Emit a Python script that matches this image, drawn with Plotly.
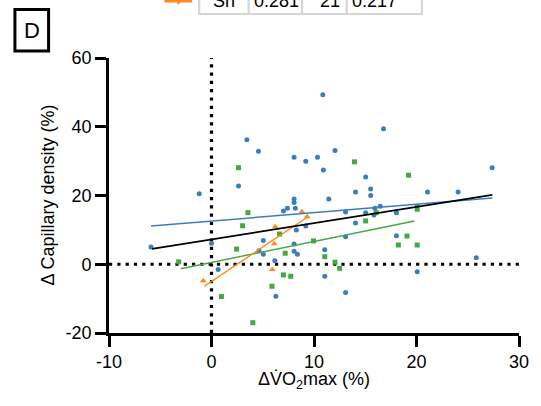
import plotly.graph_objects as go

# ---- data ----
blue_x = [-5.9, -1.2, 0.0, 0.65, 2.64, 3.45, 4.58, 4.64, 5.06, 5.06, 6.18, 6.28, 7.02, 7.41,
          8.06, 8.06, 8.18, 8.06, 8.06, 8.06, 8.38, 8.28, 9.2, 9.2, 10.34, 10.86, 10.92, 11.44,
          11.05, 11.05, 12.05, 13.08, 13.08, 13.08, 14.05, 14.05, 15.04, 15.04, 15.53, 15.53,
          15.85, 15.94, 16.46, 16.78, 18.04, 18.04, 20.07, 20.07, 21.07, 24.06, 25.83, 27.38]
blue_y = [5.0, 20.5, 6.1, -1.5, 22.8, 36.2, 32.9, 3.9, 6.9, 2.9, 1.0, -9.3, 15.5, 16.3,
          19.0, 18.0, 16.3, 31.1, 5.9, 3.8, 2.9, 10.0, 30.0, 11.1, 31.1, 49.3, 27.4, 19.0,
          4.2, -3.5, 33.1, 15.2, 8.0, -8.2, 21.0, 12.0, 25.4, 15.0, 21.9, 20.0,
          14.3, 16.3, 16.9, 39.4, 15.0, 8.3, 16.9, -2.2, 21.0, 21.0, 1.9, 28.1]

green_x = [-3.2, 0.97, 2.45, 2.64, 3.03, 3.55, 4.03, 5.9, 6.64, 7.02, 7.19, 7.73, 9.95, 11.05,
           12.05, 12.5, 13.95, 15.04, 16.07, 18.23, 19.07, 19.23, 20.07, 20.07]
green_y = [0.7, -9.4, 4.4, 28.1, 11.2, 15.0, -17.0, -6.4, 8.8, -3.1, 3.2, -3.5, 6.8, 2.2,
           0.6, -1.2, 29.8, 12.6, 15.0, 5.6, 8.2, 25.9, 16.0, 5.6]

orange_x = [-0.8, 5.92, 6.12, 6.22, 8.83, 9.34]
orange_y = [-4.8, -1.5, 6.0, 10.9, 15.3, 13.8]

# regression lines (end points)
blue_fit_x = [-5.9, 27.4]
blue_fit_y = [11.1, 19.3]
black_fit_x = [-5.8, 27.4]
black_fit_y = [4.5, 20.2]
green_fit_x = [-3.0, 19.8]
green_fit_y = [-1.3, 12.6]
orange_fit_x = [-0.7, 9.3]
orange_fit_y = [-6.4, 13.6]

x_ticks = [-10, 0, 10, 20, 30]
x_ticktext = ["-10", "0", "10", "20", "30"]
y_ticks = [-20, 0, 20, 40, 60]
y_ticktext = ["-20", "0", "20", "40", "60"]

table_row = ["Sn", "0.281", "21", "0.217"]

BLUE = "#3a7ebf"
GREEN = "#45a845"
ORANGE = "#ff8a1c"
FONT = "Liberation Sans, Arial, sans-serif"

W, H = 541, 406
L, R, T, B = 109, 18, 58, 73
PW, PH = W - L - R, H - T - B


def px(x):
    return (x - L) / PW


def py(y):
    return (H - B - y) / PH


fig = go.Figure()

fig.add_trace(go.Scatter(x=blue_x, y=blue_y, mode="markers",
                         marker=dict(symbol="circle", size=5, color=BLUE), showlegend=False))
fig.add_trace(go.Scatter(x=green_x, y=green_y, mode="markers",
                         marker=dict(symbol="square", size=5, color=GREEN), showlegend=False))
fig.add_trace(go.Scatter(x=orange_x, y=orange_y, mode="markers",
                         marker=dict(symbol="triangle-up", size=6, color=ORANGE), showlegend=False))

fig.add_trace(go.Scatter(x=blue_fit_x, y=blue_fit_y, mode="lines",
                         line=dict(color=BLUE, width=1.5), showlegend=False))
fig.add_trace(go.Scatter(x=green_fit_x, y=green_fit_y, mode="lines",
                         line=dict(color=GREEN, width=1.5), showlegend=False))
fig.add_trace(go.Scatter(x=orange_fit_x, y=orange_fit_y, mode="lines",
                         line=dict(color=ORANGE, width=1.5), showlegend=False))
fig.add_trace(go.Scatter(x=black_fit_x, y=black_fit_y, mode="lines",
                         line=dict(color="black", width=1.8), showlegend=False))

shapes = [
    dict(type="line", xref="x", yref="y", x0=x_ticks[0], x1=x_ticks[-1], y0=0, y1=0,
         line=dict(color="black", width=3.2, dash="3.2px,5.1px"), layer="below"),
    dict(type="line", xref="x", yref="y", x0=0, x1=0, y0=y_ticks[0], y1=y_ticks[-1],
         line=dict(color="black", width=3.2, dash="3.2px,5.1px"), layer="below"),
    # panel letter box
    dict(type="rect", xref="paper", yref="paper", x0=px(14), x1=px(48), y0=py(51), y1=py(9.5),
         line=dict(color="black", width=3)),
    # partial table at the top
    dict(type="line", xref="paper", yref="paper", x0=px(199), x1=px(426), y0=py(14), y1=py(14),
         line=dict(color="#d6d6d6", width=2.2)),
    # orange legend sample
    dict(type="line", xref="paper", yref="paper", x0=px(165), x1=px(193), y0=py(1), y1=py(1),
         line=dict(color=ORANGE, width=3)),
    dict(type="path", xref="paper", yref="paper",
         path=f"M {px(176)},{py(0)} L {px(182)},{py(0)} L {px(179)},{py(5)} Z",
         fillcolor=ORANGE, line=dict(color=ORANGE, width=0)),
]
for xv in [200, 250, 304, 349, 425]:
    shapes.append(dict(type="line", xref="paper", yref="paper", x0=px(xv), x1=px(xv),
                       y0=py(-5), y1=py(15), line=dict(color="#d6d6d6", width=2.2)))

annotations = [
    dict(text="D", xref="paper", yref="paper", x=px(31), y=py(30.5), showarrow=False,
         xanchor="center", yanchor="middle", font=dict(family=FONT, size=22, color="black")),
    dict(text="Δ Capillary density (%)", xref="paper", yref="paper", x=px(47), y=py(195),
         showarrow=False, textangle=-90, xanchor="center", yanchor="middle",
         font=dict(family=FONT, size=18, color="black")),
    dict(text="ΔV̇O<sub>2</sub>max (%)", xref="paper", yref="paper", x=px(316), y=py(380),
         showarrow=False, xanchor="center", yanchor="middle",
         font=dict(family=FONT, size=18, color="black")),
]
cell_pos = [(212, "left"), (253, "left"), (344, "right"), (352, "left")]
for (xv, anc), txt in zip(cell_pos, table_row):
    annotations.append(dict(text=txt, xref="paper", yref="paper", x=px(xv), y=py(1),
                            showarrow=False, xanchor=anc, yanchor="middle",
                            font=dict(family=FONT, size=18, color="black")))

axis_common = dict(showline=True, linecolor="black", linewidth=2.6, ticks="outside",
                   ticklen=11, tickwidth=2.6, tickcolor="black", showgrid=False,
                   zeroline=False, tickfont=dict(family=FONT, size=18, color="black"))

fig.update_layout(
    width=W, height=H,
    margin=dict(l=L, r=R, t=T, b=B, pad=0),
    paper_bgcolor="white", plot_bgcolor="white",
    xaxis=dict(range=[x_ticks[0], x_ticks[-1]], tickvals=x_ticks, ticktext=x_ticktext, **axis_common),
    yaxis=dict(range=[y_ticks[0], y_ticks[-1]], tickvals=y_ticks, ticktext=y_ticktext, **axis_common),
    shapes=shapes,
    annotations=annotations,
    font=dict(family=FONT),
)

fig.write_html("out.html",
               config={"displayModeBar": False},
               post_script="document.body.style.margin='0';document.body.style.overflow='hidden';")
